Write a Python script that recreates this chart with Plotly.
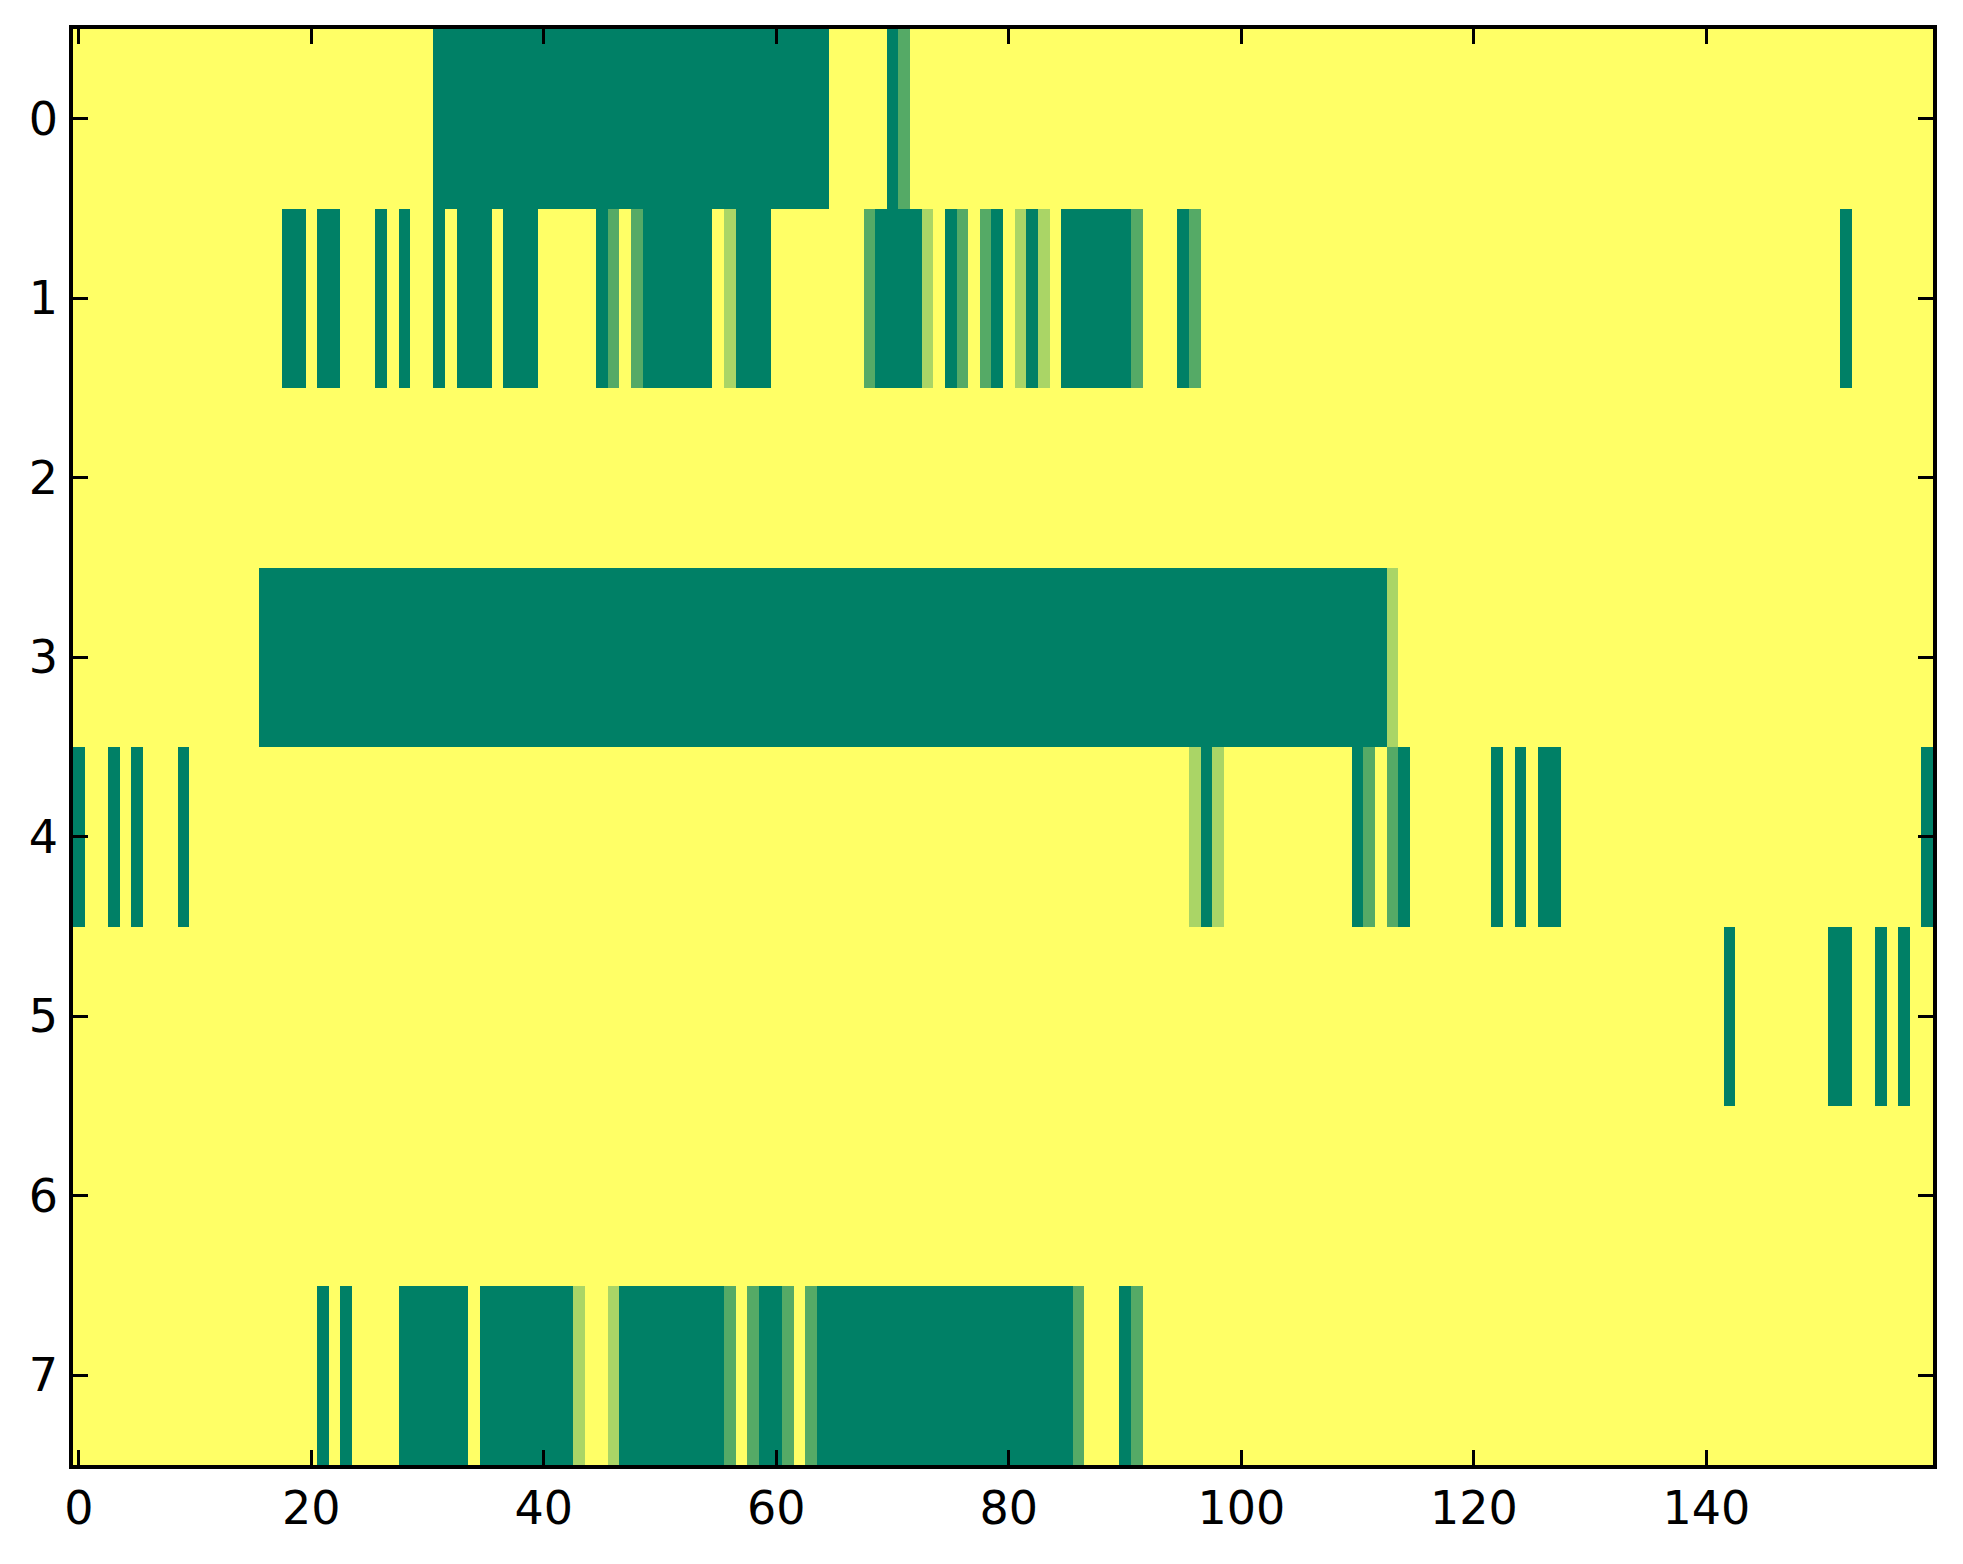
import numpy as np
import plotly.graph_objects as go

# ---------------------------
# Data: per row, runs of (first col, last col, level)
# levels 0..3, everything not listed is 0
# ---------------------------
n_cols = 160
row_labels = [0, 1, 2, 3, 4, 5, 6, 7]
x_ticks = [0, 20, 40, 60, 80, 100, 120, 140]

row0 = [(31, 64, 3), (70, 70, 3), (71, 71, 2)]
row1 = [(18, 19, 3), (21, 22, 3), (26, 26, 3), (28, 28, 3), (31, 31, 3),
        (33, 35, 3), (37, 39, 3), (45, 45, 3), (46, 46, 2), (48, 48, 2),
        (49, 54, 3), (56, 56, 1), (57, 59, 3), (68, 68, 2), (69, 72, 3),
        (73, 73, 1), (75, 75, 3), (76, 76, 2), (78, 78, 2), (79, 79, 3),
        (81, 81, 1), (82, 82, 3), (83, 83, 1), (85, 90, 3), (91, 91, 2),
        (95, 95, 3), (96, 96, 2), (152, 152, 3)]
row2 = []
row3 = [(16, 112, 3), (113, 113, 1)]
row4 = [(0, 0, 3), (3, 3, 3), (5, 5, 3), (9, 9, 3), (96, 96, 1), (97, 97, 3),
        (98, 98, 1), (110, 110, 3), (111, 111, 2), (113, 113, 2), (114, 114, 3),
        (122, 122, 3), (124, 124, 3), (126, 127, 3), (159, 159, 3)]
row5 = [(142, 142, 3), (151, 152, 3), (155, 155, 3), (157, 157, 3)]
row6 = []
row7 = [(21, 21, 3), (23, 23, 3), (28, 33, 3), (35, 42, 3), (43, 43, 1),
        (46, 46, 1), (47, 55, 3), (56, 56, 2), (58, 58, 2), (59, 60, 3),
        (61, 61, 2), (63, 63, 2), (64, 85, 3), (86, 86, 2), (90, 90, 3),
        (91, 91, 2)]

rows = [row0, row1, row2, row3, row4, row5, row6, row7]

# build the matrix from the runs
z = np.zeros((len(rows), n_cols))
for r, runs in enumerate(rows):
    for a, b, v in runs:
        z[r, a:b + 1] = v

# summer_r
colorscale = [[0.0, "rgb(255,255,102)"], [1.0, "rgb(0,128,102)"]]

fig = go.Figure(go.Heatmap(
    z=z,
    x=list(range(n_cols)),
    y=row_labels,
    colorscale=colorscale,
    zmin=0, zmax=3,
    showscale=False,
    hoverongaps=False,
))

axis_style = dict(
    showline=True, linecolor="black", linewidth=3.5, mirror="ticks",
    ticks="inside", ticklen=15, tickwidth=2.5, tickcolor="black",
    showgrid=False, zeroline=False,
    tickfont=dict(family="DejaVu Sans", size=46, color="black"),
)

fig.update_xaxes(range=[-0.5, n_cols - 0.5], tickvals=x_ticks,
                 ticklabelstandoff=0, **axis_style)
fig.update_yaxes(range=[7.5, -0.5], tickvals=row_labels,
                 ticklabelstandoff=2, **axis_style)

# page body has an 8px margin, so shift plot area back by that
fig.update_layout(
    width=1963, height=1564,
    margin=dict(l=65, r=38, t=21, b=107),
    paper_bgcolor="white", plot_bgcolor="white",
    font=dict(family="DejaVu Sans"),
)

fig.write_html("out.html")
